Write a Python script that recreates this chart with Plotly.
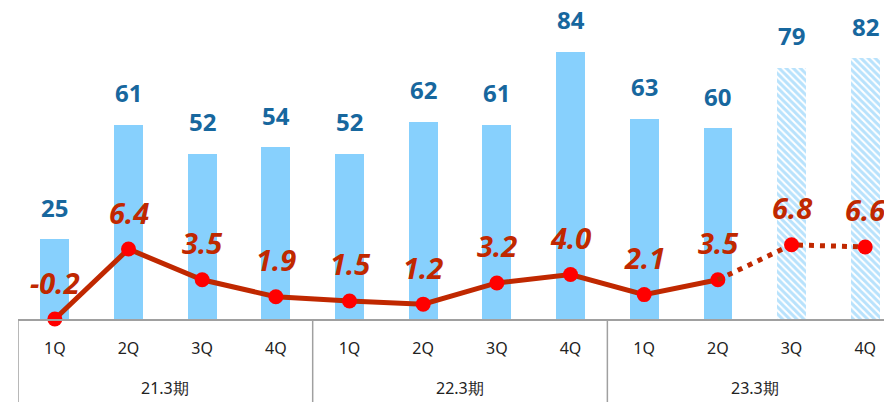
import plotly.graph_objects as go

quarters = ["1Q", "2Q", "3Q", "4Q"] * 3
periods = ["21.3期", "22.3期", "23.3期"]
sales = [25, 61, 52, 54, 52, 62, 61, 84, 63, 60, 79, 82]
margin_pct = [-0.2, 6.4, 3.5, 1.9, 1.5, 1.2, 3.2, 4.0, 2.1, 3.5, 6.8, 6.6]
n_actual = 10  # first 10 quarters are actuals, last 2 are forecasts

BAR = "#87D0FD"
BAR_TXT = "#17679E"
LINE = "#C02800"
DOT = "#FF0000"
FONT = "Noto Sans"

x = list(range(len(sales)))

fig = go.Figure()
fig.add_trace(go.Bar(
    x=x[:n_actual], y=sales[:n_actual], width=0.39,
    marker=dict(color=BAR, line=dict(width=0)),
))
fig.add_trace(go.Bar(
    x=x[n_actual:], y=sales[n_actual:], width=0.39,
    marker=dict(color="white", line=dict(width=0),
                pattern=dict(shape="\\", fgcolor="#72C6FA", bgcolor="white", size=5, solidity=0.6)),
))
fig.add_trace(go.Scatter(
    x=x[:n_actual], y=margin_pct[:n_actual], yaxis="y2", mode="lines+markers",
    line=dict(color=LINE, width=5), marker=dict(color=DOT, size=15),
    cliponaxis=False,
))
fig.add_trace(go.Scatter(
    x=x[n_actual - 1:], y=margin_pct[n_actual - 1:], yaxis="y2", mode="lines",
    line=dict(color=LINE, width=5, dash="5px,6px"), cliponaxis=False,
))
fig.add_trace(go.Scatter(
    x=x[n_actual:], y=margin_pct[n_actual:], yaxis="y2", mode="markers",
    marker=dict(color=DOT, size=15), cliponaxis=False,
))

# value labels
for i, v in enumerate(sales):
    fig.add_annotation(x=i, y=v, text=f"<b>{v}</b>", showarrow=False, yshift=32,
                       font=dict(family=FONT, size=24, color=BAR_TXT))
for i, v in enumerate(margin_pct):
    fig.add_annotation(x=i, y=v, yref="y2", text=f"<b><i>{v:.1f}</i></b>", showarrow=False,
                       yshift=37, font=dict(family=FONT, size=29, color=LINE))

# period grouping box below the axis
for sep in (-0.5, 3.5, 7.5, 11.5):
    fig.add_shape(type="line", x0=sep, x1=sep, xref="x", yref="paper", y0=0, y1=-0.3,
                  line=dict(color="#A0A0A0", width=1.5))
for k, p in enumerate(periods):
    fig.add_annotation(x=1.5 + 4 * k, y=-0.215, yref="paper", yanchor="middle", text=p,
                       showarrow=False, font=dict(family=FONT, size=16, color="#222222"))

fig.update_layout(
    width=884, height=402,
    margin=dict(l=18, r=0, t=0, b=83),
    paper_bgcolor="white", plot_bgcolor="white",
    showlegend=False, bargap=0,
    xaxis=dict(range=[-0.5, 11.255], tickvals=x, ticktext=quarters, ticks="",
               showgrid=False, zeroline=False, showline=True, linecolor="#A0A0A0", linewidth=2,
               tickfont=dict(family=FONT, size=16, color="#222222"), ticklabelstandoff=14),
    yaxis=dict(range=[0, 100.3], visible=False),
    yaxis2=dict(range=[-0.2, 29.9], overlaying="y", visible=False),
)

fig.write_html("out.html", config={"displayModeBar": False},
               post_script="document.body.style.margin='0';")
